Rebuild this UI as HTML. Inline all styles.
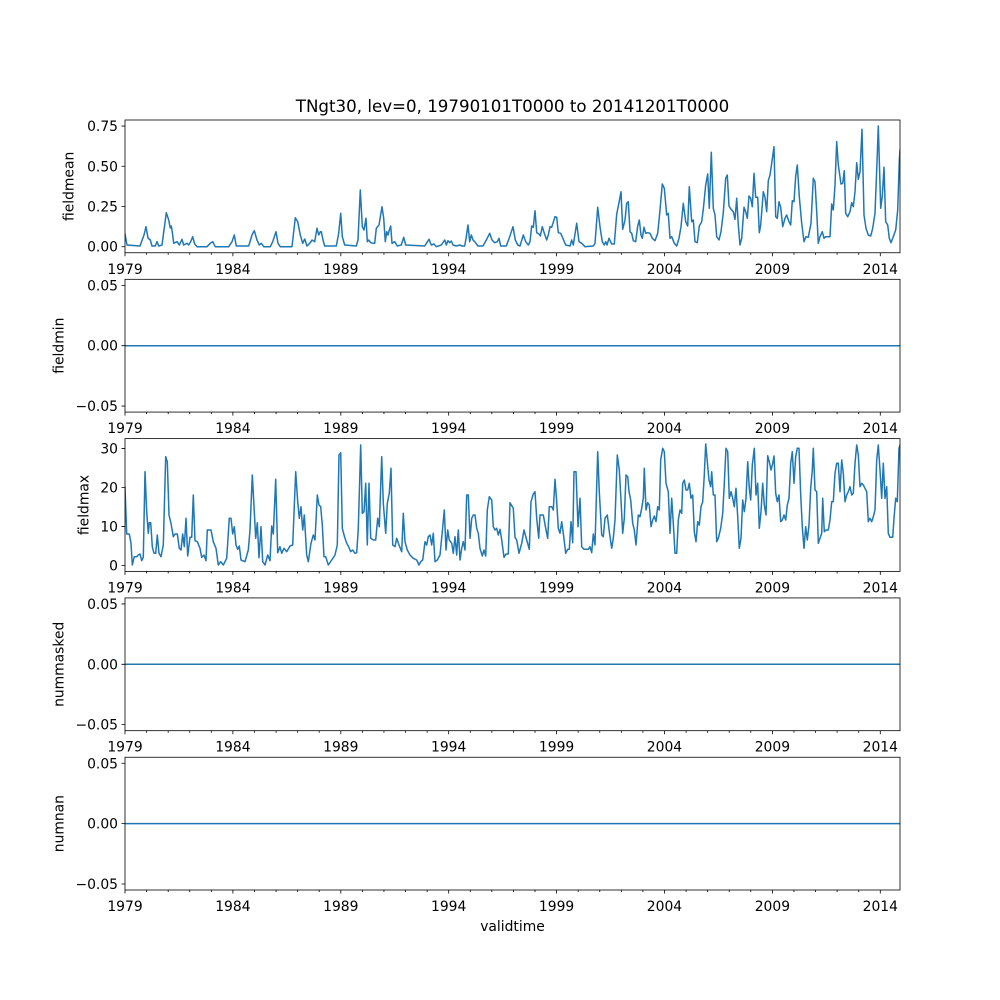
<!DOCTYPE html>
<html><head><meta charset="utf-8"><style>
html,body{margin:0;padding:0;background:#fff;}
svg{display:block;}
text{font-family:"DejaVu Sans","Liberation Sans",sans-serif;fill:#000;}
.t{font-size:13.89px;}
.ya{text-anchor:end;}
.xa{text-anchor:middle;}
</style></head><body>
<svg width="1000" height="1000" viewBox="0 0 1000 1000" xmlns="http://www.w3.org/2000/svg">
<defs>
<g id="xt" stroke="#000" stroke-width="0.8" fill="none">
<path d="M125 0v3.5M232.88 0v3.5M340.82 0v3.5M448.7 0v3.5M556.58 0v3.5M664.46 0v3.5M772.4 0v3.5M880.29 0v3.5"/>
<path d="M146.56 0v2M168.19 0v2M189.75 0v2M211.32 0v2M254.5 0v2M276.07 0v2M297.63 0v2M319.2 0v2M362.38 0v2M383.95 0v2M405.51 0v2M427.14 0v2M470.27 0v2M491.83 0v2M513.46 0v2M535.02 0v2M578.15 0v2M599.77 0v2M621.34 0v2M642.9 0v2M686.09 0v2M707.65 0v2M729.22 0v2M750.78 0v2M793.97 0v2M815.53 0v2M837.1 0v2M858.72 0v2"/>
</g>
<clipPath id="c1"><rect x="125" y="120" width="775" height="132.76"/></clipPath>
<clipPath id="c3"><rect x="125" y="438.62" width="775" height="132.76"/></clipPath>
</defs>
<rect width="1000" height="1000" fill="#fff"/>

<!-- Title -->
<text x="512.5" y="112" text-anchor="middle" style="font-size:16.67px">TNgt30, lev=0, 19790101T0000 to 20141201T0000</text>

<!-- Panel 1 -->
<polyline clip-path="url(#c1)" fill="none" stroke="#1f77b4" stroke-width="1.5" stroke-linejoin="round" stroke-linecap="square" points="125,234 127,245 140,246 144,235 146,226.7 148,238 150.3,240 152,246 155.3,246 157,241.7 158.7,246 162,245 166.3,212.7 168.7,220 170.3,228 171.3,226 172.7,235 173.7,243.3 177,241.7 179.3,245 182,239.3 183.7,245 187,243.3 188.7,245 191,241 192.7,236.7 194.7,244 197,246.7 207,246.7 210.3,243.3 212.7,241.7 215.3,246.7 228.7,246.7 232,241.7 234.3,235 236.3,246 248.7,246 252,235 254.3,230.7 257,240 259.3,245 261.3,243.3 263.7,246.7 270.3,246.7 272.7,241.7 276,231.7 278,243.3 280.3,246.7 292,246.7 295.3,217.7 297.7,221.7 300.3,235 302.7,243.3 304.7,239 307,246 310.3,242.7 312,240 314.7,241.7 317,228.3 318.7,235 320.3,231.7 321.3,231.7 323,240 324.7,246 336.3,246 338.7,233.3 340.7,213.3 342.3,236.7 344.7,245 356.3,246 358,240 360.3,190 362.3,226.7 364,230 366,218.3 367.3,241.7 368.7,240 370.7,242.7 373,243.3 374.7,243.3 376.3,228.3 379,225 382,206.7 383.7,218.3 385.3,241.7 386.7,231.7 388,235 389.3,230 390.7,226 392,243.3 394.7,241.7 397.3,246 401.3,245 403.7,237.3 405.7,245 424.7,246 429,239.3 431.3,245 434,244 436.3,246.7 441.3,245 444.7,240 446.3,245 448,240.7 449.7,242.7 451.3,241 453,245 456.3,246 459.7,245 462,246 464.7,246 466.3,236.7 468,225 469.7,241.7 471.3,235 473,240 474.7,241.7 478,246 483,246 486.3,240 489.7,233.3 492,240 494.7,242.7 497.3,241.7 499,238.3 500.7,246 506.3,246 509.7,236.7 513,226.7 515.3,240 517.7,245 520,246 523.3,235 525.7,241.7 528.3,245 530,241.7 531.7,226 533.3,227.3 535,210.7 536.7,232.7 539,234 540.3,236 542.3,226.7 544.3,233.3 546.7,240 548.3,235 550,226.7 551.7,227.3 555,216.7 556.7,217.3 558.3,232.7 560.7,233.3 563.3,239.3 565.7,245 570,246 571.7,240 573.3,245 576.7,223.3 579,241.7 581.7,243.3 585,246.7 593.3,246 595,243.3 597.7,207.3 600,226.7 602.3,241.7 604.3,245 605.7,241.7 607,245 609,238.3 611.7,244 614.3,244 616.7,214 619,202.7 621,191.7 622.7,229.3 625,220 626.7,203.3 628.3,201.7 630,231.7 631.7,233.3 633.3,240.7 635.7,241.7 637.7,226 639.3,220 641,235 642.3,238.3 644,227.3 645.7,233.3 647.7,232.7 650,233.3 652.3,238.3 655,240.7 657.7,233.3 660,210 662.3,184 664.3,188.3 666.7,215 668.3,213.3 670,238.3 671.7,236.7 674.3,243.3 676.7,246 679,238.3 681,226.7 683.3,203.3 685.7,221.7 687.7,226 689.3,186.7 691.7,221.7 693.3,220 695,241.7 697.3,242.7 699.3,226 701.7,221.7 703.3,209.3 705.7,185 707.7,174 709.3,208.3 711.3,152.3 713.3,208.3 715,215 716.7,236.7 719,240 721,231.7 723.3,212.7 725.7,178.3 727.3,175 729,206 731,209.3 733.3,211.7 735,219.3 736.7,198.3 738.3,225 740,245 741.7,238.3 744,207.3 745.7,211.7 747.3,218.3 749,196 750.7,198.3 752.3,206.7 754,173.3 755.7,197.3 757.7,197.3 759.3,232.7 760.7,225 763.3,191.7 765,197.3 766.7,211.7 768.3,180.7 770,175 771.7,163.3 774,146.7 775.7,216.7 777.3,218.3 779,201.7 780.7,207.3 782.7,226.7 785,218.3 786.7,215 789,221.7 790.7,225 792.3,200.7 794,201.7 795.7,176 797.3,165 799.3,196.7 801.7,223.3 804,241.7 806,236.7 808.3,237.3 811,223.3 813.3,178.3 815,181.7 816.7,211.7 818.3,243.3 820,236.7 822.3,231.7 824,238.3 825.7,236.7 828.3,236.7 830,236.7 831.7,204 833.3,210 835,185 836.7,141.7 838.3,165 841,184 842.7,183.3 844.3,170.7 845.7,213.3 847.7,216.7 850,211.7 851.7,202.7 853.3,206.7 855,191.7 856.7,162.7 858.3,179.3 860,171.7 862,129.3 864,215 866,228.3 868.3,235 870.7,236 872.7,228.3 875,213.3 876.7,170 878.3,126 880.7,208.3 882.3,196 884,167.3 885.7,221.7 887.7,225 889.3,238.3 891,242.7 893.3,236.7 895.7,230 897.7,210 899.3,160.7 900,150"/>
<rect x="125" y="120" width="775" height="132.76" fill="none" stroke="#000" stroke-width="0.8"/>
<path d="M121.5 246.73h3.5M121.5 206.5h3.5M121.5 166.27h3.5M121.5 126.04h3.5" stroke="#000" stroke-width="0.8"/>
<text class="t ya" x="118" y="251.7">0.00</text>
<text class="t ya" x="118" y="211.5">0.25</text>
<text class="t ya" x="118" y="171.3">0.50</text>
<text class="t ya" x="118" y="131">0.75</text>
<use href="#xt" transform="translate(0,252.76)"/>
<g class="t xa">
<text x="125" y="273.8">1979</text><text x="232.88" y="273.8">1984</text><text x="340.82" y="273.8">1989</text><text x="448.7" y="273.8">1994</text><text x="556.58" y="273.8">1999</text><text x="664.46" y="273.8">2004</text><text x="772.4" y="273.8">2009</text><text x="880.29" y="273.8">2014</text>
</g>
<text class="t" transform="translate(73.5,186.4) rotate(-90)" text-anchor="middle">fieldmean</text>

<!-- Panel 2 -->
<path d="M125 345.69H900" stroke="#1f77b4" stroke-width="1.5" fill="none"/>
<rect x="125" y="279.31" width="775" height="132.76" fill="none" stroke="#000" stroke-width="0.8"/>
<path d="M121.5 285.34h3.5M121.5 345.69h3.5M121.5 406.04h3.5" stroke="#000" stroke-width="0.8"/>
<text class="t ya" x="118" y="290.3">0.05</text>
<text class="t ya" x="118" y="350.7">0.00</text>
<text class="t ya" x="118" y="411">−0.05</text>
<use href="#xt" transform="translate(0,412.07)"/>
<g class="t xa">
<text x="125" y="433.1">1979</text><text x="232.88" y="433.1">1984</text><text x="340.82" y="433.1">1989</text><text x="448.7" y="433.1">1994</text><text x="556.58" y="433.1">1999</text><text x="664.46" y="433.1">2004</text><text x="772.4" y="433.1">2009</text><text x="880.29" y="433.1">2014</text>
</g>
<text class="t" transform="translate(63.3,345.69) rotate(-90)" text-anchor="middle">fieldmin</text>

<!-- Panel 3 -->
<polyline clip-path="url(#c3)" fill="none" stroke="#1f77b4" stroke-width="1.5" stroke-linejoin="round" stroke-linecap="square" points="125,487 126.7,534 129.3,534 131,543.3 132.3,565 134.3,556.7 136.7,556.7 138.3,555 140,554 141.7,560.7 143.3,557.3 145,471.7 146.7,511.7 148.3,533.3 149.3,522.7 150.7,522.7 152.3,546.7 154,553.3 155.7,553.3 157.3,535 159,553.3 161,556.7 163.3,545 165.7,456.7 167.3,461.7 169,515 171,523.3 173.3,536.7 175,534 177.3,534 179.3,548.3 181,550 182.7,534 184.3,546.7 186,518.3 187.7,556 190,537.3 191.7,537.3 193.3,495 195,540.7 197.3,541.7 200,548.3 201.7,557.3 204,555 206,560.7 207.3,530 211,530 213.3,541.7 216,548.3 218.3,565 220.7,561.7 223.3,565 226.7,558.3 229.3,518.3 231,518.3 232.7,534 234.3,526.7 236,545 237.7,549.3 239.3,546 241,560 245,561.7 248.3,550 250,530 252.3,475 254.3,511.7 255.7,538.3 257.3,522.7 259,557.7 261,526.7 262.7,561.7 265,565 267.7,555 270,560.7 271.7,526 273.3,534 275.7,479.3 277.7,552.7 280,546.7 281.7,553.3 284,548.3 286.7,551.7 290,546 292.7,545 295.7,471.7 297.7,501.7 299.3,518.3 301,506.7 302.7,530 304.3,515 306.7,555 308.3,561.7 311,543.3 313.3,535 315,540 317.3,495 319,505 320.7,506.7 322.3,525 324,556.7 325.7,556.7 328.3,565 331.7,560 335,555 337.3,545 339,455 340.7,452.7 342.3,528.3 344.3,536 346.7,543.3 348.3,546 350.7,551.7 352.7,550 355,553.3 356.7,552.7 358.3,528.3 360.7,445 362.3,513.3 364,511.7 365.7,483.3 367.3,545 369,483.3 370.7,538.3 373.3,540 375.7,540 377.7,518.3 379.3,526.7 381.7,456.7 383.3,503.3 385.7,533.3 387.3,503.3 389.3,493.3 391,468.3 392.7,545 395,546.7 396.7,538.3 399,545 401.7,551.7 403.3,513.3 405,541.7 407.3,550 410,555 413.3,558.3 416.7,560 419,565 420.7,561.7 422.7,560 425,541.7 426.7,545 428.3,536.7 430,535 431.7,545 433.3,533.3 435,561.7 437.3,560 440,555 442.3,531.7 444.3,510 446,550 447.7,530 449.3,540 451.7,543.3 453.3,553.3 455,536.7 456.7,555 458.3,530 460,560 461.7,548.3 463.3,541.7 465,550 466.7,495 468.3,495 470,538.3 471.7,518.3 473.3,515 475,515 476.7,528.3 478.3,533.3 480,548.3 482.3,556 484,550 485.7,556 487.3,510 489.3,496.7 491.7,500 493.3,526.7 495,530 496.7,528.3 498.3,535 500,529.3 501.7,540 504,557.3 506,554 508.3,554 510,502.7 513.3,508.3 515,537.3 516.7,540 519,553.3 521.7,543.3 524,530 526.7,540 529.3,549.3 531,501.7 533.3,494 535,491.7 536.7,518.3 538.7,538.3 540,515 543.3,515 545.7,528.3 547.7,538.3 549.3,506.7 551.7,506.7 553.3,510 555,479.3 556.7,501.7 558.3,528.3 560,533.3 561.7,521.7 563.3,533.3 565.7,553.3 567.7,549.3 569.3,549.3 571,521.7 572.7,542.7 574,471.7 576,471.7 578,526.7 580,498.3 581.7,546.7 584,549.3 586,549.3 588.3,549.3 590,546.7 591.7,552.7 593.3,534 595,545 597.7,451.7 599.3,491.7 601.7,535 603.3,536.7 605,518.3 607.3,515 609.3,531.7 611.7,548.3 613.3,538.3 615,520 617.3,455 619.3,470 621,500 622.7,533.3 624.3,518.3 626,475 627.7,476.7 629,491.7 630.7,500 632.7,523.3 634.3,530 636,545 638.3,515 640,516.7 641.7,508.3 643.3,498.3 644.3,468.3 646,510 647.7,502.7 649.3,505 651,526.7 652.7,520 654.3,516 656,521.7 657.7,506.7 659.3,510 660.7,460 662.7,448.3 664.3,451.7 666,483.3 668.3,491.7 670,533.3 671.7,498.3 673.3,523.3 675,553.3 676.7,553.3 678.3,520 680,510 681.7,513.3 682.7,483.3 684.3,480 686,490 687.7,490 689.3,483.3 691,498.3 692.7,495 694.3,531.7 696,541.7 697.7,521.7 699.3,525 701,506.7 702.7,501.7 704.3,475 705.7,444 707.3,461.7 709,480 710.7,486.7 711.7,471.7 713.3,495 715,495 716.7,541.7 718.3,538.3 720.7,528.3 722.7,513.3 724.3,483.3 726,448.3 727.7,451.7 729.3,498.3 731,491.7 732.7,498.3 734.3,506.7 736,488.3 737.7,516.7 739.3,548.3 741,538.3 742.7,500 744.3,511.7 746,498.3 747.7,461.7 749.3,488.3 750.7,500 752.3,465 754.3,448.3 756,495 757.7,483.3 759.3,528.3 761,511.7 762.7,483.3 764.3,505 766,515 767.7,455.7 769.3,461.7 771,470 772.7,463.3 774,456 775.7,493.3 777.3,501.7 779,495 780.7,521.7 782.3,520 784,515 785.7,520 787.3,505 789,498.3 790.7,463.3 792.3,451.7 794,483.3 795.7,456.7 797.3,448.3 799,448.3 800.7,495 802.3,526.7 804,548.3 805.7,526.7 807.3,540 809,525 810.7,488.3 812.3,470 813.3,448.3 815,490 816.7,491.7 818.3,543.3 820,538.3 821.7,533.3 822.7,498.3 824.3,531.7 826,530 828.3,530 830,520 831.7,501.7 833.3,501.7 835,473.3 836.7,463.3 838.3,463.3 840,491.7 841.7,460 843.3,473.3 845,501.7 846.7,495 848.3,491.7 850,486.7 851.7,495 853.3,493.3 855,463.3 856.7,445 858.3,455 860,486.7 861.7,483.3 863.3,485 865,488.3 866.7,491.7 868.3,521.7 870,518.3 871.7,521.7 873.3,516.7 875,510 876.7,460 878.3,445 880,470 881.7,498.3 883.3,463.3 885,498.3 886.7,486.7 888.3,533.3 890,537.3 892.7,537.3 894,518.3 895.7,498.3 897.3,501.7 899,448.3 900,445"/>
<rect x="125" y="438.62" width="775" height="132.76" fill="none" stroke="#000" stroke-width="0.8"/>
<path d="M121.5 565.35h3.5M121.5 526.42h3.5M121.5 487.49h3.5M121.5 448.56h3.5" stroke="#000" stroke-width="0.8"/>
<text class="t ya" x="118" y="570.3">0</text>
<text class="t ya" x="118" y="531.4">10</text>
<text class="t ya" x="118" y="492.5">20</text>
<text class="t ya" x="118" y="453.6">30</text>
<use href="#xt" transform="translate(0,571.38)"/>
<g class="t xa">
<text x="125" y="592.4">1979</text><text x="232.88" y="592.4">1984</text><text x="340.82" y="592.4">1989</text><text x="448.7" y="592.4">1994</text><text x="556.58" y="592.4">1999</text><text x="664.46" y="592.4">2004</text><text x="772.4" y="592.4">2009</text><text x="880.29" y="592.4">2014</text>
</g>
<text class="t" transform="translate(88.3,505) rotate(-90)" text-anchor="middle">fieldmax</text>

<!-- Panel 4 -->
<path d="M125 664.31H900" stroke="#1f77b4" stroke-width="1.5" fill="none"/>
<rect x="125" y="597.93" width="775" height="132.76" fill="none" stroke="#000" stroke-width="0.8"/>
<path d="M121.5 603.96h3.5M121.5 664.31h3.5M121.5 724.66h3.5" stroke="#000" stroke-width="0.8"/>
<text class="t ya" x="118" y="609">0.05</text>
<text class="t ya" x="118" y="669.3">0.00</text>
<text class="t ya" x="118" y="729.7">−0.05</text>
<use href="#xt" transform="translate(0,730.69)"/>
<g class="t xa">
<text x="125" y="751.7">1979</text><text x="232.88" y="751.7">1984</text><text x="340.82" y="751.7">1989</text><text x="448.7" y="751.7">1994</text><text x="556.58" y="751.7">1999</text><text x="664.46" y="751.7">2004</text><text x="772.4" y="751.7">2009</text><text x="880.29" y="751.7">2014</text>
</g>
<text class="t" transform="translate(63.3,664.31) rotate(-90)" text-anchor="middle">nummasked</text>

<!-- Panel 5 -->
<path d="M125 823.62H900" stroke="#1f77b4" stroke-width="1.5" fill="none"/>
<rect x="125" y="757.24" width="775" height="132.76" fill="none" stroke="#000" stroke-width="0.8"/>
<path d="M121.5 763.27h3.5M121.5 823.62h3.5M121.5 883.97h3.5" stroke="#000" stroke-width="0.8"/>
<text class="t ya" x="118" y="768.3">0.05</text>
<text class="t ya" x="118" y="828.6">0.00</text>
<text class="t ya" x="118" y="889">−0.05</text>
<use href="#xt" transform="translate(0,890)"/>
<g class="t xa">
<text x="125" y="911">1979</text><text x="232.88" y="911">1984</text><text x="340.82" y="911">1989</text><text x="448.7" y="911">1994</text><text x="556.58" y="911">1999</text><text x="664.46" y="911">2004</text><text x="772.4" y="911">2009</text><text x="880.29" y="911">2014</text>
</g>
<text class="t" transform="translate(63.3,823.62) rotate(-90)" text-anchor="middle">numnan</text>
<text class="t" x="512.5" y="931" text-anchor="middle">validtime</text>
</svg>
</body></html>
